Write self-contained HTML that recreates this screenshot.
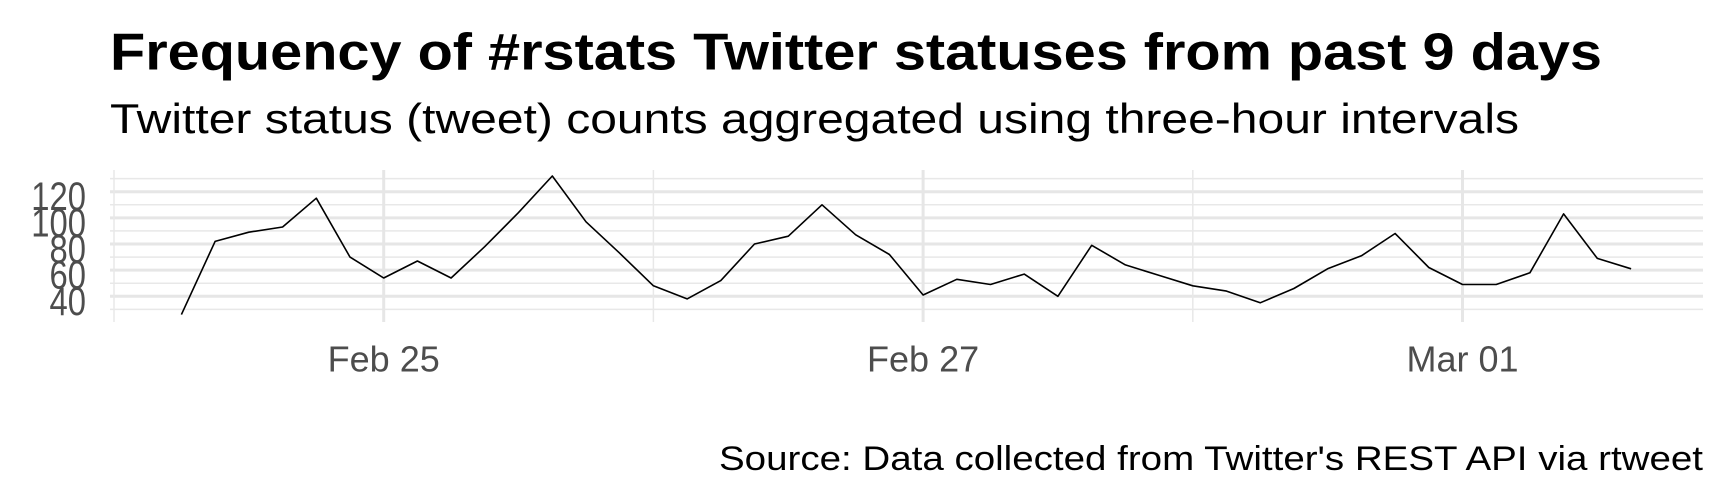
<!DOCTYPE html>
<html><head><meta charset="utf-8"><style>
html,body{margin:0;padding:0;background:#fff}
svg{display:block;font-family:"Liberation Sans",Arial,sans-serif}
</style></head><body>
<svg width="1728" height="504" viewBox="0 0 1728 504">
<g id="grid"></g>
<g id="yticks"></g>
<g id="xticks"></g>
<path id="line" fill="none" stroke="#000" stroke-width="1.6" stroke-linejoin="round"/>
<text x="110" y="69.5" font-size="52" font-weight="bold" textLength="1492" lengthAdjust="spacingAndGlyphs">Frequency of #rstats Twitter statuses from past 9 days</text>
<text x="110" y="133" font-size="42" textLength="1409" lengthAdjust="spacingAndGlyphs">Twitter status (tweet) counts aggregated using three-hour intervals</text>
<text x="1703" y="470" font-size="34" text-anchor="end" textLength="984" lengthAdjust="spacingAndGlyphs">Source: Data collected from Twitter's REST API via rtweet</text>
</svg>
<script>
const counts=[26,82,89,93,115,70,54,67,54,78,104,132,97,73,48,38,52,80,86,110,87,72,41,53,49,57,40,79,64,56,48,44,35,46,61,71,88,62,49,49,58,103,69,61];
const startHour=6, stepHours=3;
const yTicks=[40,60,80,100,120];
const yMinor=[30,50,70,90,110,130];
const xTickLabels=["Feb 25","Feb 27","Mar 01"];
const xTickDays=[1,3,5];
const xMinorDays=[0,2,4,6];
const ns="http://www.w3.org/2000/svg";
const X=h=>114+h/24*269.7;
const Y=v=>296.3-(v-40)*1.3075;
const L=110,R=1703,T=170,B=322;
function mk(t,a,p){const e=document.createElementNS(ns,t);for(const k in a)e.setAttribute(k,a[k]);p.appendChild(e);return e;}
const g=document.getElementById('grid');
yMinor.forEach(v=>{const e=mk('line',{x1:L,x2:R,y1:Y(v),y2:Y(v),stroke:'#e8e8e8','stroke-width':1.5},g);

});
yTicks.forEach(v=>{const e=mk('line',{x1:L,x2:R,y1:Y(v),y2:Y(v),stroke:'#e6e6e6','stroke-width':3},g);

});
xMinorDays.forEach(d=>{const e=mk('line',{x1:X(d*24),x2:X(d*24),y1:T,y2:B,stroke:'#e8e8e8','stroke-width':1.5},g);

});
xTickDays.forEach(d=>{const e=mk('line',{x1:X(d*24),x2:X(d*24),y1:T,y2:B,stroke:'#e6e6e6','stroke-width':3},g);

});
const yt=document.getElementById('yticks');
yTicks.forEach(v=>{const e=mk('text',{x:0,y:0,'font-size':40,'text-anchor':'end',fill:'#4d4d4d',transform:'translate(86,'+(Y(v)+18.5)+') scale(0.82,1)'},yt);e.textContent=v;

});
const xt=document.getElementById('xticks');
xTickDays.forEach((d,i)=>{const e=mk('text',{x:X(d*24),y:371.7,'font-size':36,'text-anchor':'middle',fill:'#4d4d4d'},xt);e.textContent=xTickLabels[i];

});
document.getElementById('line').setAttribute('d',counts.map((c,i)=>(i?'L':'M')+X(startHour+i*stepHours).toFixed(1)+','+Y(c).toFixed(1)).join(''));
</script>
</body></html>
